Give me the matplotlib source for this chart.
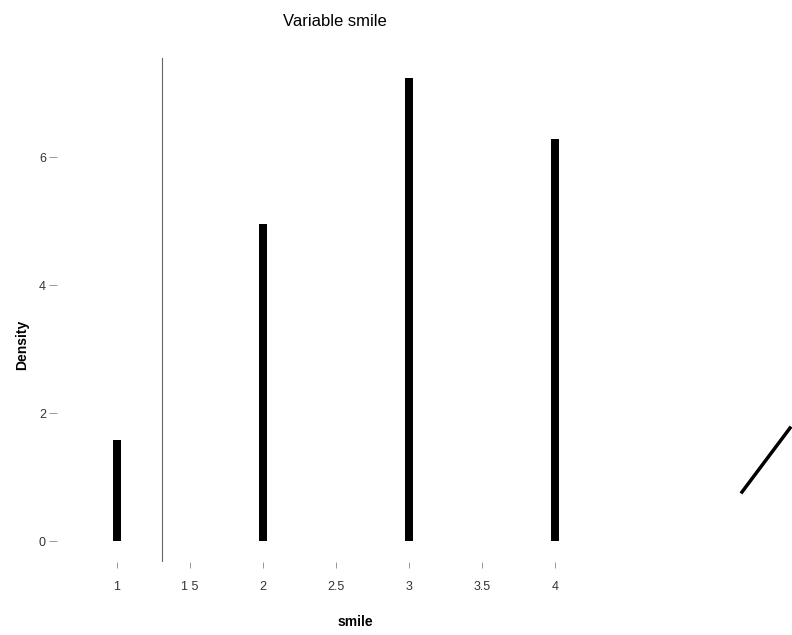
import matplotlib.pyplot as plt
from matplotlib.lines import Line2D

plt.rcParams['font.family'] = ['Liberation Sans', 'DejaVu Sans']

# smile values and their density
smile = [1, 2, 3, 4]
density = [1.58, 4.95, 7.23, 6.28]
marker_x = 1.31  # thin vertical reference line

xticks = [1, 1.5, 2, 2.5, 3, 3.5, 4]
xticklabels = ['1', '1 5', '2', '2.5', '3', '3.5', '4']
yticks = [0, 2, 4, 6]

fig = plt.figure(figsize=(7.92, 6.35), dpi=100)
# axes placed in pixels: left 57, right 700, top 40, bottom 562
ax = fig.add_axes([57 / 792, (635 - 562) / 635, (700 - 57) / 792, (562 - 40) / 635])

ax.bar(smile, density, width=0.048, color='black')
ax.axvline(marker_x, ymax=0.966, color='#666666', lw=0.8)

ax.set_xlim(1 + (57 - 117) / 146, 1 + (700 - 117) / 146)
ax.set_ylim((541 - 562) / 64, (541 - 40) / 64)

ax.set_xticks(xticks)
ax.set_xticklabels(xticklabels)
ax.set_yticks(yticks)

for s in ax.spines.values():
    s.set_visible(False)
ax.tick_params(axis='x', length=4, width=0.6, color='#888888', pad=10,
               labelsize=9, labelcolor='#333333')
ax.tick_params(axis='y', length=6, width=0.6, color='#888888', pad=2,
               labelsize=9, labelcolor='#333333')

fig.text(355 / 792, 1 - 622 / 635, 'smile', ha='center', va='center',
         fontsize=10, fontweight='bold')
fig.text(22 / 792, 1 - 345 / 635, 'Density', ha='center', va='center',
         rotation=90, fontsize=10, fontweight='bold')
fig.text(335 / 792, 1 - 22 / 635, 'Variable smile', ha='center', va='center',
         fontsize=12)

# scan artifact at the lower right
fig.add_artist(Line2D([742 / 792, 790 / 792], [1 - 492 / 635, 1 - 428 / 635],
                      transform=fig.transFigure, color='black', lw=2.5))

fig.savefig('out.png', dpi=100, facecolor='white')
